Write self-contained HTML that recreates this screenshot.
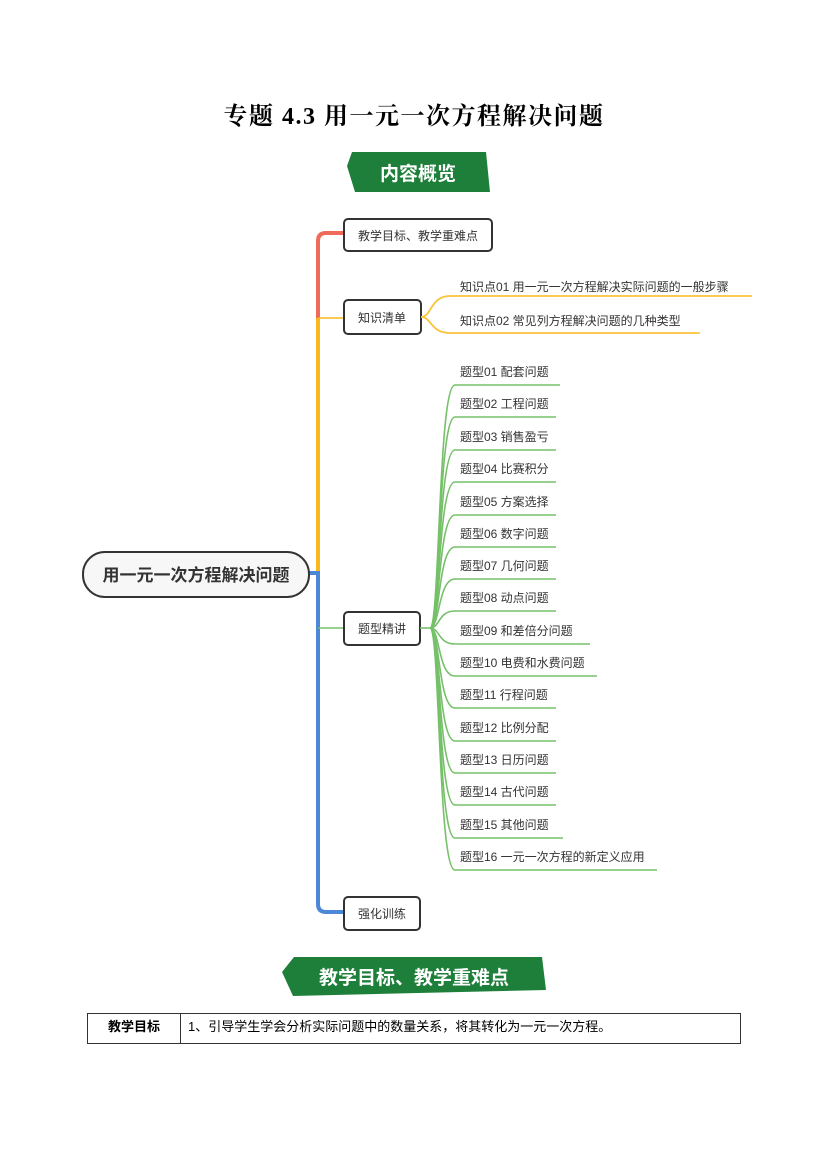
<!DOCTYPE html>
<html><head><meta charset="utf-8"><style>
body{margin:0;background:#fff;}
svg{display:block}
text{font-family:"Liberation Sans","Noto Sans CJK SC",sans-serif;}
</style></head><body>
<svg width="827" height="1169" viewBox="0 0 827 1169" xmlns="http://www.w3.org/2000/svg">
<text x="414" y="124" text-anchor="middle" font-size="24" font-weight="bold" letter-spacing="1.5" style="font-family:'Liberation Serif','Noto Serif CJK SC',serif">专题 4.3  用一元一次方程解决问题</text>
<polygon points="352,152 486,152 490,192 355,192 347,166" fill="#1e7f3a"/>
<text x="418" y="180" text-anchor="middle" font-size="19" font-weight="bold" fill="#fff">内容概览</text>
<path d="M343,233 L326,233 Q318,233 318,241 L318,318" stroke="#ef6a5a" stroke-width="4" fill="none"/>
<path d="M318,318 L318,573" stroke="#f9b81d" stroke-width="4" fill="none"/>
<path d="M318,318 L343,318" stroke="#f9b81d" stroke-width="1.5"/>
<path d="M309,573 L318,573 L318,904 Q318,912 326,912 L343,912" stroke="#4d88d8" stroke-width="4" fill="none"/>
<path d="M318,628 L343,628" stroke="#76c06a" stroke-width="1.5"/>
<rect x="83" y="552" width="226" height="45" rx="22" fill="#f7f7f7" stroke="#333" stroke-width="2"/>
<text x="196" y="581" text-anchor="middle" font-size="17" font-weight="bold" fill="#333">用一元一次方程解决问题</text>
<rect x="344" y="219" width="148" height="32" rx="4" fill="#fff" stroke="#333" stroke-width="2"/>
<text x="418" y="240" text-anchor="middle" font-size="12" fill="#333">教学目标、教学重难点</text>
<rect x="344" y="300" width="77" height="34" rx="4" fill="#fff" stroke="#333" stroke-width="2"/>
<text x="382" y="322" text-anchor="middle" font-size="12" fill="#333">知识清单</text>
<rect x="344" y="612" width="76" height="33" rx="4" fill="#fff" stroke="#333" stroke-width="2"/>
<text x="382" y="633" text-anchor="middle" font-size="12" fill="#333">题型精讲</text>
<rect x="344" y="897" width="76" height="33" rx="4" fill="#fff" stroke="#333" stroke-width="2"/>
<text x="382" y="918" text-anchor="middle" font-size="12" fill="#333">强化训练</text>
<g stroke="#f9c33a" stroke-width="1.8" fill="none">
<path d="M421,317 C432,317 430,296 450,296 L752,296"/>
<path d="M421,317 C432,317 430,333 450,333 L700,333"/>
</g>
<g font-size="12" fill="#333">
<text x="460" y="291">知识点01  用一元一次方程解决实际问题的一般步骤</text>
<text x="460" y="325">知识点02  常见列方程解决问题的几种类型</text>
</g>
<g stroke="#76c06a" stroke-width="1.6" fill="none">
<path d="M420,628 L430,628"/>
<path d="M430,628 C440,628 438,385 455,385 L560,385"/>
<path d="M430,628 C440,628 438,417 455,417 L556,417"/>
<path d="M430,628 C440,628 438,450 455,450 L556,450"/>
<path d="M430,628 C440,628 438,482 455,482 L556,482"/>
<path d="M430,628 C440,628 438,515 455,515 L556,515"/>
<path d="M430,628 C440,628 438,547 455,547 L556,547"/>
<path d="M430,628 C440,628 438,579 455,579 L556,579"/>
<path d="M430,628 C440,628 438,611 455,611 L556,611"/>
<path d="M430,628 C440,628 438,644 455,644 L590,644"/>
<path d="M430,628 C440,628 438,676 455,676 L597,676"/>
<path d="M430,628 C440,628 438,708 455,708 L556,708"/>
<path d="M430,628 C440,628 438,741 455,741 L556,741"/>
<path d="M430,628 C440,628 438,773 455,773 L556,773"/>
<path d="M430,628 C440,628 438,805 455,805 L556,805"/>
<path d="M430,628 C440,628 438,838 455,838 L563,838"/>
<path d="M430,628 C440,628 438,870 455,870 L657,870"/>
</g>
<g font-size="12" fill="#333">
<text x="460" y="376">题型01  配套问题</text>
<text x="460" y="408">题型02  工程问题</text>
<text x="460" y="441">题型03  销售盈亏</text>
<text x="460" y="473">题型04  比赛积分</text>
<text x="460" y="506">题型05  方案选择</text>
<text x="460" y="538">题型06  数字问题</text>
<text x="460" y="570">题型07  几何问题</text>
<text x="460" y="602">题型08  动点问题</text>
<text x="460" y="635">题型09  和差倍分问题</text>
<text x="460" y="667">题型10  电费和水费问题</text>
<text x="460" y="699">题型11  行程问题</text>
<text x="460" y="732">题型12  比例分配</text>
<text x="460" y="764">题型13  日历问题</text>
<text x="460" y="796">题型14  古代问题</text>
<text x="460" y="829">题型15 其他问题</text>
<text x="460" y="861">题型16 一元一次方程的新定义应用</text>
</g>
<polygon points="294,957 542,957 546,990 293,996 282,972" fill="#1e7f3a"/>
<text x="414" y="984" text-anchor="middle" font-size="19" font-weight="bold" fill="#fff">教学目标、教学重难点</text>
<rect x="87.5" y="1013.5" width="653" height="30" fill="none" stroke="#333" stroke-width="1"/>
<line x1="180.5" y1="1013" x2="180.5" y2="1044" stroke="#333" stroke-width="1"/>
<text x="134" y="1031" text-anchor="middle" font-size="13" font-weight="bold" fill="#000">教学目标</text>
<text x="188" y="1031" font-size="13" fill="#000">1、引导学生学会分析实际问题中的数量关系，将其转化为一元一次方程。</text>
</svg>
</body></html>
